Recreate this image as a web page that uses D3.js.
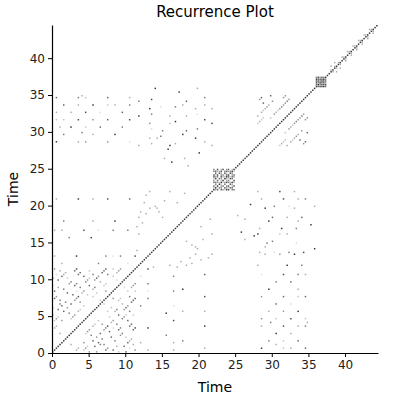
<!DOCTYPE html><html><head><meta charset="utf-8">
<script src="https://cdn.jsdelivr.net/npm/d3@7"></script>
<style>body{margin:0;background:#fff}text{font-family:"DejaVu Sans",sans-serif}</style></head><body>
<svg id="c" width="400" height="400"></svg>
<script>
const dt = 0.25;
const series = [
0.10,0.90,0.40,-0.60,0.25,0.80,0.52,-0.45,0.02,1.02,0.30,-0.70,0.18,0.95,0.45,-0.52,-0.05,0.84,0.36,-0.66,0.14,1.05,0.50,-0.58,0.06,0.78,0.28,-0.48,0.22,0.92,0.44,-0.72,0.00,0.88,0.55,-0.55,0.16,0.98,0.33,-0.62,0.08,0.82,0.47,-0.50,0.20,0.94,
1.20,1.55,0.75,1.90,1.35,2.10,0.95,1.70,2.45,1.15,2.60,1.80,0.65,2.25,1.45,2.85,1.05,2.70,1.60,3.10,0.85,2.35,1.25,3.30,1.95,0.55,2.95,1.50,3.45,2.15,0.70,3.20,1.75,2.55,3.60,1.30,2.80,0.45,3.75,2.05,3.00,1.65,
4.00,4.05,3.98,4.08,4.02,3.96,4.06,4.01,3.99,4.07,4.03,3.97,
4.6,3.4,4.9,3.1,5.2,2.9,4.4,5.5,3.6,5.0,2.7,4.8,
1.60,2.40,0.40,-0.20,1.75,2.28,0.55,-0.08,1.48,2.52,0.30,-0.32,1.66,2.35,0.46,-0.14,1.55,2.48,0.35,-0.26,1.70,2.32,0.50,-0.18,1.52,2.44,0.42,-0.10,
5.8,3.3,6.1,2.6,
6.50,6.52,6.49,6.51,6.50,6.53,
6.9,7.0,7.15,7.1,7.25,7.2,7.35,7.3,7.5,7.6,7.55,7.7,7.8,7.75,7.9,8.0,7.95,8.1,8.2,8.15,8.3,8.4,8.35,8.5,8.6,8.55,8.7,8.8];
const ticks = [0,5,10,15,20,25,30,35,40];
const eps = 0.07;

const svg = d3.select("#c");
const m = {l:52,t:25,r:22,b:47}, W=400-m.l-m.r, H=400-m.t-m.b;
const N = series.length, tmax = N*dt;
const x = d3.scaleLinear().domain([0,tmax]).range([m.l,m.l+W]);
const y = d3.scaleLinear().domain([0,tmax]).range([m.t+H,m.t]);
const shade = d3.scaleLinear().domain([0,eps]).range(["#333","#ddd"]);
const cells=[];
for(let i=0;i<N;i++)for(let j=0;j<N;j++){
  const d=Math.abs(series[i]-series[j]);
  if(d<eps) cells.push({i,j,d});
}
svg.append("g").selectAll("rect").data(cells).join("rect")
 .attr("x",d=>x(d.i*dt)).attr("y",d=>y((d.j+1)*dt))
 .attr("width",(x(dt)-x(0))*0.8).attr("height",(y(0)-y(dt))*0.8)
 .attr("fill",d=>shade(d.d));
const fs="12px";
svg.append("g").attr("transform",`translate(0,${m.t+H})`).call(d3.axisBottom(x).tickValues(ticks).tickSize(4).tickSizeOuter(0))
 .call(g=>{g.selectAll("text").style("font-size",fs).attr("fill","#222");g.select(".domain").attr("stroke-width",1.2);});
svg.append("g").attr("transform",`translate(${m.l},0)`).call(d3.axisLeft(y).tickValues(ticks).tickSize(4).tickSizeOuter(0))
 .call(g=>{g.selectAll("text").style("font-size",fs).attr("fill","#222");g.select(".domain").attr("stroke-width",1.2);});
svg.append("text").attr("x",m.l+W/2).attr("y",17).attr("text-anchor","middle").style("font-size","15px").text("Recurrence Plot");
svg.append("text").attr("x",m.l+W/2).attr("y",392).attr("text-anchor","middle").style("font-size","14px").text("Time");
svg.append("text").attr("transform",`translate(18,${m.t+H/2}) rotate(-90)`).attr("text-anchor","middle").style("font-size","14px").text("Time");
</script></body></html>
